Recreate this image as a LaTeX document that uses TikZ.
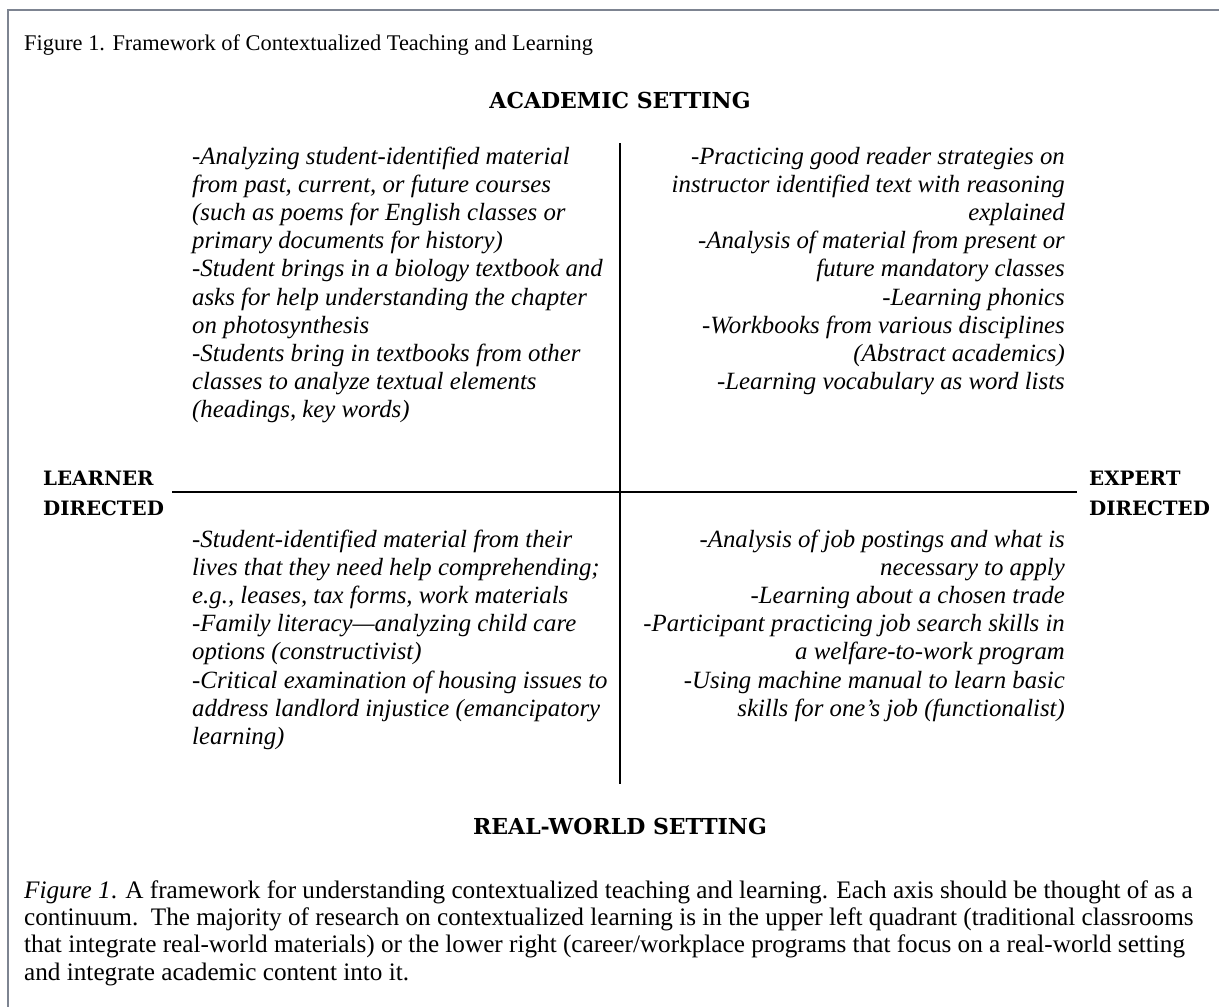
\documentclass[tikz,border=0pt]{standalone}
\usepackage{fontspec}
\setmainfont{Liberation Serif}
\newfontfamily\headfont{DejaVu Serif}
\definecolor{framegray}{RGB}{125,132,145}
\begin{document}
\begin{tikzpicture}[x=1pt,y=1pt,
  quad/.style={inner sep=0pt, font=\fontsize{24.8}{28.2}\selectfont\itshape},
  head/.style={inner sep=0pt, font=\headfont\bfseries\fontsize{19.8}{30}\selectfont},
  bighead/.style={inner sep=0pt, font=\headfont\bfseries\fontsize{22}{30}\selectfont},
  plain/.style={inner sep=0pt, font=\fontsize{25.2}{27.3}\selectfont},
  axisline/.style={line width=1.6pt, black}]
\useasboundingbox (0,0) rectangle (1219,-1007);
\fill[white] (0,0) rectangle (1219,-1007);
\draw[framegray, line width=2.5pt] (8,-1007) -- (8,-10) -- (1219,-10);

\node[inner sep=0pt, font=\fontsize{22.4}{27}\selectfont, anchor=base west] (title) at (24,-50) {Figure 1. Framework of Contextualized Teaching and Learning};

\node[bighead, anchor=base] (acad) at (620,-108) {ACADEMIC SETTING};
\node[bighead, anchor=base] (real) at (620,-834) {REAL-WORLD SETTING};
\node[head, anchor=base west, align=left] (learner) at (43,-515) {LEARNER\\DIRECTED};
\node[head, anchor=base west, align=left] (expert) at (1089,-515) {EXPERT\\DIRECTED};

\coordinate (vtop) at (620,-143);
\coordinate (vbot) at (620,-784);
\coordinate (hl) at (172,-492);
\coordinate (hr) at (1077,-492);
\draw[axisline] (vtop) -- (vbot);
\draw[axisline] (hl) -- (hr);

\node[quad, anchor=base west, align=left] (ul) at (192,-417.8) {%
-Analyzing student-identified material\\
from past, current, or future courses\\
(such as poems for English classes or\\
primary documents for history)\\
-Student brings in a biology textbook and\\
asks for help understanding the chapter\\
on photosynthesis\\
-Students bring in textbooks from other\\
classes to analyze textual elements\\
(headings, key words)};

\node[quad, anchor=base east, align=right] (ur) at (1065,-389.6) {%
-Practicing good reader strategies on\\
instructor identified text with reasoning\\
explained\\
-Analysis of material from present or\\
future mandatory classes\\
-Learning phonics\\
-Workbooks from various disciplines\\
(Abstract academics)\\
-Learning vocabulary as word lists};

\node[quad, anchor=base west, align=left] (ll) at (192,-744.4) {%
-Student-identified material from their\\
lives that they need help comprehending;\\
e.g., leases, tax forms, work materials\\
-Family literacy—analyzing child care\\
options (constructivist)\\
-Critical examination of housing issues to\\
address landlord injustice (emancipatory\\
learning)};

\node[quad, anchor=base east, align=right] (lr) at (1065,-716.2) {%
-Analysis of job postings and what is\\
necessary to apply\\
-Learning about a chosen trade\\
-Participant practicing job search skills in\\
a welfare-to-work program\\
-Using machine manual to learn basic\\
skills for one’s job (functionalist)};

\node[plain, anchor=base west, align=left] (caption) at (24,-980) {%
\textit{Figure 1}. A framework for understanding contextualized teaching and learning. Each axis should be thought of as a\\
continuum.\ \ The majority of research on contextualized learning is in the upper left quadrant (traditional classrooms\\
that integrate real-world materials) or the lower right (career/workplace programs that focus on a real-world setting\\
and integrate academic content into it.};
\end{tikzpicture}
\end{document}
